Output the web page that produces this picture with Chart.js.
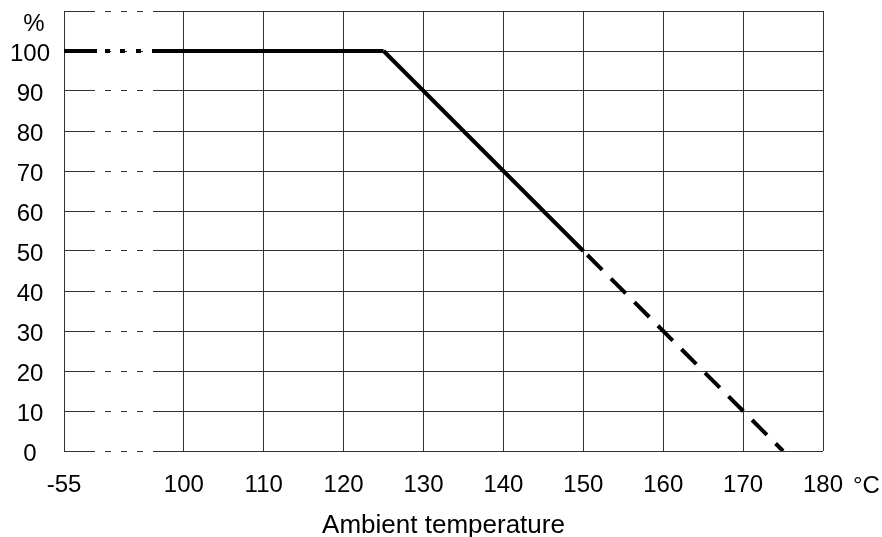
<!DOCTYPE html>
<html>
<head>
<meta charset="utf-8">
<script src="https://cdn.jsdelivr.net/npm/chart.js@4"></script>
<style>
  html, body { margin: 0; padding: 0; background: #fff; }
  #wrap { width: 882px; height: 537px; position: relative; }
</style>
</head>
<body>
<div id="wrap"><canvas id="c"></canvas></div>
<script>
// ---- data ----
const xTickTemps = [-55, 100, 110, 120, 130, 140, 150, 160, 170, 180];
const yTickValues = [0, 10, 20, 30, 40, 50, 60, 70, 80, 90, 100, 110];
const ratedTemp = [-55, 125, 150];
const ratedLoad = [100, 100, 50];
const extTemp = [150, 175];
const extLoad = [50, 0];
const xUnit = '°C';
const yUnit = '%';
const xTitle = 'Ambient temperature';

// axis break: the lowest temperature (-55) is drawn where 85 would be
const breakLow = -55;
const breakPos = 85;
const axisX = t => (t === breakLow ? breakPos : t);

const FONT = '"Liberation Sans", Arial, Helvetica, sans-serif';
const breakDash = [33, 8, 5, 10, 5, 11, 5, 11, 3000, 0];
const gridBreakDash = [31, 10, 6, 10, 6, 10, 6, 10, 3000, 0];

const unitsPlugin = {
  id: 'units',
  afterDraw(chart) {
    const { ctx, scales: { x, y } } = chart;
    ctx.save();
    ctx.font = '24px ' + FONT;
    ctx.fillStyle = '#000';
    ctx.textBaseline = 'middle';
    ctx.textAlign = 'center';
    ctx.fillText(yUnit, 34, y.getPixelForValue(110) + 13);
    ctx.textAlign = 'left';
    ctx.fillText(xUnit, x.getPixelForValue(180) + 30, x.top + 35);
    ctx.restore();
  }
};

new Chart(document.getElementById('c'), {
  type: 'line',
  data: {
    datasets: [
      {
        data: ratedTemp.map((t, i) => ({ x: axisX(t), y: ratedLoad[i] })),
        borderColor: '#000',
        borderWidth: 4,
        borderCapStyle: 'butt',
        pointRadius: 0,
        fill: false,
        tension: 0,
        segment: {
          borderDash: ctx => (ctx.p0DataIndex === 0 ? breakDash : undefined)
        }
      },
      {
        data: extTemp.map((t, i) => ({ x: axisX(t), y: extLoad[i] })),
        borderColor: '#000',
        borderWidth: 4,
        borderCapStyle: 'butt',
        borderDash: [21, 12.3],
        borderDashOffset: 27.6,
        pointRadius: 0,
        fill: false,
        tension: 0
      }
    ]
  },
  options: {
    responsive: true,
    maintainAspectRatio: false,
    animation: false,
    devicePixelRatio: 1,
    layout: { padding: { top: 11, right: 59, left: 0, bottom: 0 } },
    plugins: { legend: { display: false }, tooltip: { enabled: false } },
    scales: {
      x: {
        type: 'linear',
        min: breakPos,
        max: 180,
        afterBuildTicks: s => { s.ticks = xTickTemps.map(t => ({ value: axisX(t) })); },
        afterFit: s => { s.height = 86; s.paddingLeft = 0; s.paddingRight = 0; },
        ticks: {
          autoSkip: false,
          maxRotation: 0,
          padding: 20,
          color: '#000',
          font: { family: FONT, size: 24 },
          callback: v => {
            const i = xTickTemps.findIndex(t => axisX(t) === v);
            return i >= 0 ? String(xTickTemps[i]) : '';
          }
        },
        grid: { color: '#333', lineWidth: 1, drawTicks: false },
        border: { display: false },
        title: {
          display: true,
          text: xTitle,
          color: '#000',
          font: { family: FONT, size: 26, lineHeight: 22 / 26 },
          padding: 0
        }
      },
      y: {
        type: 'linear',
        min: 0,
        max: 110,
        afterBuildTicks: s => { s.ticks = yTickValues.map(v => ({ value: v })); },
        afterFit: s => { s.width = 64; s.paddingTop = 0; s.paddingBottom = 0; },
        ticks: {
          padding: 14,
          crossAlign: 'center',
          labelOffset: 3,
          color: '#000',
          font: { family: FONT, size: 24 },
          callback: v => (v === 110 ? '' : String(v))
        },
        grid: { color: '#333', lineWidth: 1, drawTicks: false },
        border: { display: false, dash: gridBreakDash }
      }
    }
  },
  plugins: [unitsPlugin]
});
</script>
</body>
</html>
